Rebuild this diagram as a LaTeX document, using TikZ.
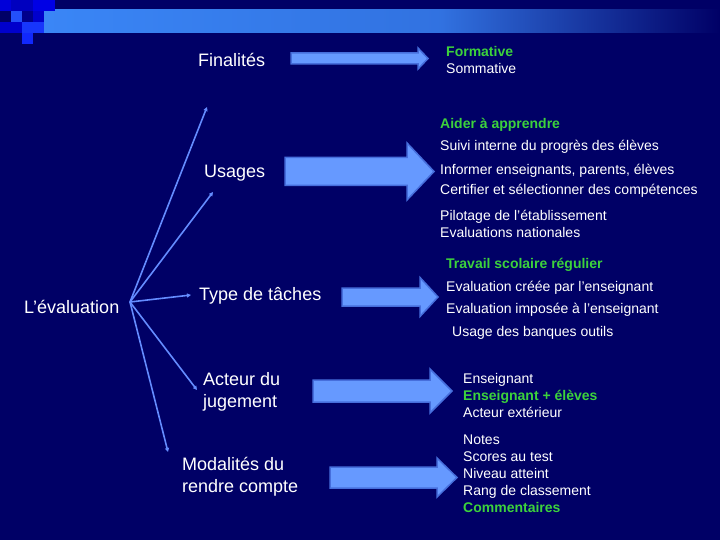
\documentclass[tikz,border=0pt]{standalone}
\usepackage{fontspec}
\setmainfont{Liberation Sans}[Ligatures=ResetAll]
\usetikzlibrary{arrows.meta}
\usepackage{xcolor}
\definecolor{mnavy}{RGB}{0,0,102}
\definecolor{mbar}{RGB}{58,134,246}
\definecolor{mgreen}{RGB}{60,210,60}
\definecolor{mlink}{RGB}{100,140,255}
\definecolor{mfill}{RGB}{102,153,255}
\definecolor{medge}{RGB}{70,110,220}

\begin{document}
\begin{tikzpicture}[x=1pt,y=-1pt,
    topic/.style={anchor=west, inner sep=0pt, text=white, font=\fontsize{18}{22}\selectfont, align=left},
    item/.style={anchor=west, inner sep=0pt, text=white, font=\fontsize{14}{17}\selectfont, align=left},
    hot/.style={item, text=mgreen, font=\fontsize{14}{17}\selectfont\bfseries},
    link/.style={draw=mlink, line width=1.6pt, -{Triangle[length=4pt,width=4pt]}},
    blockarrow/.style={fill=mfill, draw=medge, line width=1.5pt, line join=miter}]
  \useasboundingbox (0,0) rectangle (720,540);
  \fill [mnavy] (0,0) rectangle (720,540);
  % banner
  \fill [left color=mbar, right color=mbar!85!mnavy] (44,10) rectangle (440,33);
  \fill [left color=mbar!85!mnavy, right color=mnavy] (440,10) rectangle (720,33);
  \fill [blue!85!black] (0,0) rectangle (11,11);
  \fill [blue!75!black] (11,0) rectangle (33,11);
  \fill [blue!90!black] (33,0) rectangle (55,11);
  \fill [mbar!60!blue] (11,11) rectangle (22,22);
  \fill [blue!55!black] (22,11) rectangle (33,22);
  \fill [blue!80!black] (33,11) rectangle (44,22);
  \fill [blue!80!black] (0,22) rectangle (22,33);
  \fill [mbar!40!blue] (22,22) rectangle (44,33);
  \fill [mbar!30!blue] (22,33) rectangle (33,44);

  % left side
  \node [topic] (eval) at (24,307) {L’évaluation};
  \coordinate (hub) at (130,302);
  \node [topic] (fin) at (198,60) {Finalités};
  \node [topic] (usa) at (204,173) {Usages};
  \node [topic] (typ) at (199,296) {Type de tâches};
  \node [topic] (act) at (203,391.5) {Acteur du\\jugement};
  \node [topic] (mod) at (182,476.5) {Modalités du\\rendre compte};
  \coordinate (fin-end) at (207,107);
  \coordinate (usa-end) at (213,192);
  \coordinate (typ-end) at (191,295);
  \coordinate (act-end) at (197,390);
  \coordinate (mod-end) at (168,452);
  \foreach \t in {fin,usa,typ,act,mod}
    \draw [link] (hub) -- (\t-end);

  % block arrows
  \foreach \xa/\xb/\xt/\yc/\sh/\hh in {291/418/428/58.5/5.5/10.5, 285/407/434/171.5/14/28.5,
      342/420/438/297/9/19.5, 313/430/452/391/11/22, 330/437/457/477.5/10.5/19.5}
    \draw [blockarrow] (\xa,\yc-\sh) -- (\xb,\yc-\sh) -- (\xb,\yc-\hh) -- (\xt,\yc)
      -- (\xb,\yc+\hh) -- (\xb,\yc+\sh) -- (\xa,\yc+\sh) -- cycle;

  % right side
  \node [item] (fin-list) at (446,59.5) {\textcolor{mgreen}{\bfseries Formative}\\Sommative};
  \node [hot] (aid) at (440,125) {Aider à apprendre};
  \node [item] (sui) at (440,147) {Suivi interne du progrès des élèves};
  \node [item] (inf) at (440,171) {Informer enseignants, parents, élèves};
  \node [item] (cer) at (440,191) {Certifier et sélectionner des compétences};
  \node [item] (pil) at (440,223.5) {Pilotage de l'établissement\\Evaluations nationales};
  \node [hot] (tra) at (446,265) {Travail scolaire régulier};
  \node [item] (cre) at (446,288) {Evaluation créée par l'enseignant};
  \node [item] (imp) at (446,310) {Evaluation imposée à l'enseignant};
  \node [item] (ban) at (452,333) {Usage des banques outils};
  \node [item] (act-list) at (463,395) {Enseignant\\\textcolor{mgreen}{\bfseries Enseignant + élèves}\\Acteur extérieur};
  \node [item] (mod-list) at (463,473.5) {Notes\\Scores au test\\Niveau atteint\\Rang de classement\\\textcolor{mgreen}{\bfseries Commentaires}};
\end{tikzpicture}
\end{document}
